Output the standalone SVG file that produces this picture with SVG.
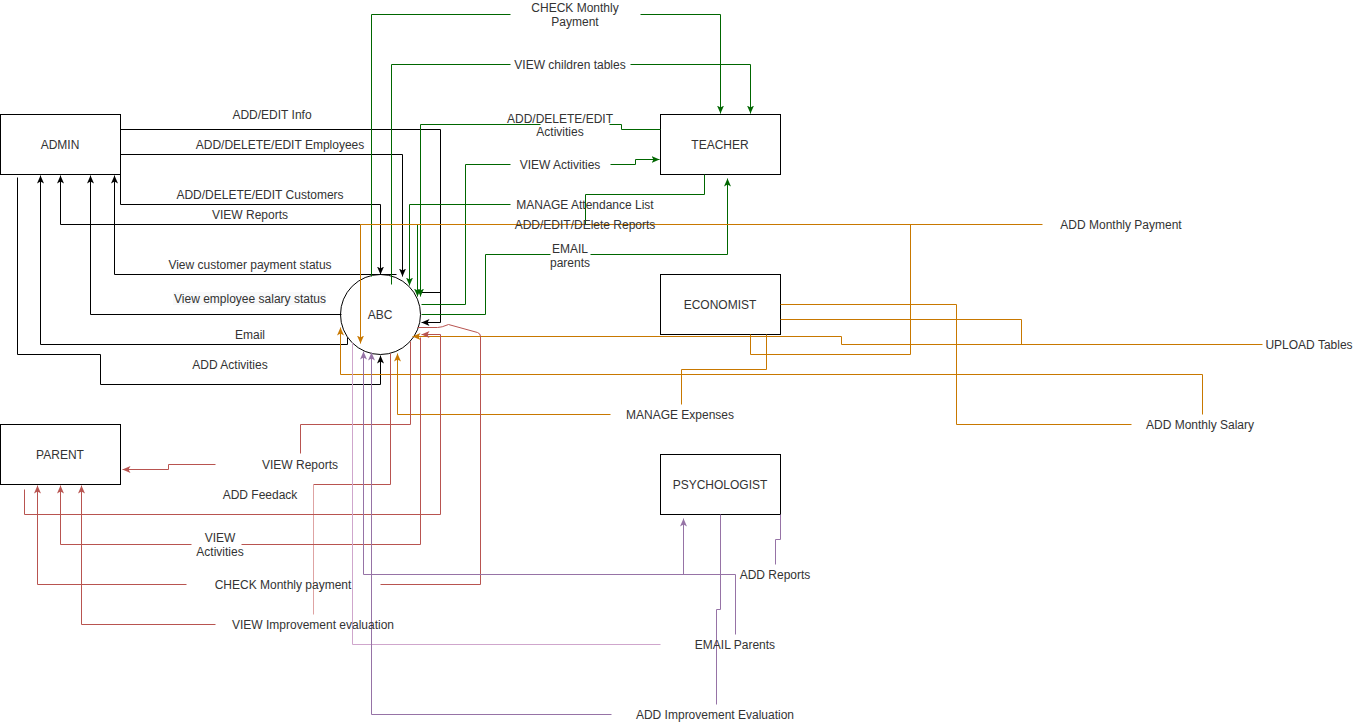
<svg xmlns="http://www.w3.org/2000/svg" width="1361" height="725" viewBox="0 0 1361 725">
<style>
.node{fill:#fff;stroke:#000;stroke-width:1}
.t{font-family:"Liberation Sans",Arial,Helvetica,sans-serif;font-size:12px;fill:#333;text-anchor:middle}
.e{fill:none;stroke-width:1}
.k{stroke:#000}
.g{stroke:#006600}
.o{stroke:#c87800}
.r{stroke:#b85450}
.rl{stroke:#dea3a3}
.p{stroke:#9673a6}
.pl{stroke:#cfa6cc}
</style>
<defs>
<marker id="ak" viewBox="0 0 8 8" refX="8" refY="4" markerWidth="8" markerHeight="8" markerUnits="userSpaceOnUse" orient="auto"><path d="M0,0.5 L8,4 L0,7.5 L2,4 Z" fill="#000"/></marker>
<marker id="ag" viewBox="0 0 8 8" refX="8" refY="4" markerWidth="8" markerHeight="8" markerUnits="userSpaceOnUse" orient="auto"><path d="M0,0.5 L8,4 L0,7.5 L2,4 Z" fill="#006600"/></marker>
<marker id="ao" viewBox="0 0 8 8" refX="8" refY="4" markerWidth="8" markerHeight="8" markerUnits="userSpaceOnUse" orient="auto"><path d="M0,0.5 L8,4 L0,7.5 L2,4 Z" fill="#c87800"/></marker>
<marker id="ar" viewBox="0 0 8 8" refX="8" refY="4" markerWidth="8" markerHeight="8" markerUnits="userSpaceOnUse" orient="auto"><path d="M0,0.5 L8,4 L0,7.5 L2,4 Z" fill="#b85450"/></marker>
<marker id="ap" viewBox="0 0 8 8" refX="8" refY="4" markerWidth="8" markerHeight="8" markerUnits="userSpaceOnUse" orient="auto"><path d="M0,0.5 L8,4 L0,7.5 L2,4 Z" fill="#9673a6"/></marker>
</defs>
<rect width="1361" height="725" fill="#fff"/>

<g id="admin"><rect class="node" x="0.5" y="114.5" width="120" height="60"/><text class="t" x="60" y="149">ADMIN</text></g>
<g id="teacher"><rect class="node" x="660.5" y="114.5" width="120" height="60"/><text class="t" x="720" y="149">TEACHER</text></g>
<g id="economist"><rect class="node" x="660.5" y="274.5" width="120" height="60"/><text class="t" x="720" y="309">ECONOMIST</text></g>
<g id="parent"><rect class="node" x="0.5" y="424.5" width="120" height="60"/><text class="t" x="60" y="459">PARENT</text></g>
<g id="psychologist"><rect class="node" x="660.5" y="454.5" width="120" height="60"/><text class="t" x="720" y="489">PSYCHOLOGIST</text></g>
<g id="abc"><circle class="node" cx="380.5" cy="314.5" r="40"/><text class="t" x="380" y="319">ABC</text></g>

<g id="connectors" transform="translate(0.5,0.5)">
<g class="e k">
<path d="M120,129 H440 V322 H421" marker-end="url(#ak)"/>
<path d="M421,292 H440"/>
<path d="M120,154 H402 V276" marker-end="url(#ak)"/>
<path d="M120,174 V204 H380 V274" marker-end="url(#ak)"/>
<path d="M360,224 H60 V175" marker-end="url(#ak)"/>
<path d="M396,274 H114 V175" marker-end="url(#ak)"/>
<path d="M341,314 H90 V175" marker-end="url(#ak)"/>
<path d="M347,337 V344 H40 V175" marker-end="url(#ak)"/>
<path d="M17,177 V354 H100 V384 H380 V355" marker-end="url(#ak)"/>
</g>
<g class="e g">
<path d="M371,276 V14 H510"/><path d="M640,14 H720 V113" marker-end="url(#ag)"/>
<path d="M391,284 V64 H510"/><path d="M630,64 H750 V113" marker-end="url(#ag)"/>
<path d="M660,129 H621 V124 H609"/><path d="M540,124 H420 V296" marker-end="url(#ag)"/>
<path d="M421,304 H465 V164 H510"/><path d="M610,164 H635 V159 H659" marker-end="url(#ag)"/>
<path d="M510,204 H409 V285" marker-end="url(#ag)"/>
<path d="M704,174 V194 H585 V224 H417 V296" marker-end="url(#ag)"/>
<path d="M421,314 H485 V254 H550"/><path d="M590,254 H727 V178" marker-end="url(#ag)"/>
</g>
<g class="e o">
<path d="M1042,224 H360 V343" marker-end="url(#ao)"/>
<path d="M750,334 V354 H910 V224"/>
<path d="M1262,344 H841 V336 H412" marker-end="url(#ao)"/>
<path d="M780,319 H1021 V344"/>
<path d="M1202,414 V374 H340 V327" marker-end="url(#ao)"/>
<path d="M780,304 H956 V424 H1131"/>
<path d="M766,334 V369 H681 V404"/>
<path d="M610,414 H397 V353" marker-end="url(#ao)"/>
</g>
<g class="e r">
<path d="M410,341 V424 H300 V453"/>
<path d="M215,464 H168 V469 H122" marker-end="url(#ar)"/>
<path d="M390,353 V484 H313"/>
<path class="rl" d="M313,484 V614"/>
<path d="M24,489 V514 H440 V334 H421" marker-end="url(#ar)"/>
<path d="M420,337 V544 H241"/><path d="M191,544 H60 V485" marker-end="url(#ar)"/>
<path d="M417,327 L437,327 Q441,327 448,324 L477,332 Q480,333 480,336 V584 H380"/>
<path d="M186,584 H37 V485" marker-end="url(#ar)"/>
<path d="M215,624 H81 V485" marker-end="url(#ar)"/>
</g>
<g class="e p">
<path d="M780,514 V539 H775 V564"/>
<path d="M735,634 V574 H363 V351" marker-end="url(#ap)"/>
<path d="M683,574 V518" marker-end="url(#ap)"/>
<path class="pl" d="M660,644 H352 V342"/>
<path d="M720,514 V609 H716 V704"/>
<path d="M611,714 H371 V352" marker-end="url(#ap)"/>
</g>
</g>

<g id="labels">
<text class="t" x="272" y="119">ADD/EDIT Info</text>
<text class="t" x="280" y="149">ADD/DELETE/EDIT Employees</text>
<text class="t" x="260" y="199">ADD/DELETE/EDIT Customers</text>
<text class="t" x="250" y="219">VIEW Reports</text>
<text class="t" x="250" y="269">View customer payment status</text>
<rect x="173" y="292" width="153" height="13" fill="#f8f9fa"/>
<text class="t" x="250" y="303">View employee salary status</text>
<text class="t" x="250" y="339">Email</text>
<text class="t" x="230" y="369">ADD Activities</text>
<text class="t" x="575" y="12">CHECK Monthly</text>
<text class="t" x="575" y="26">Payment</text>
<text class="t" x="570" y="69">VIEW children tables</text>
<text class="t" x="560" y="123">ADD/DELETE/EDIT</text>
<text class="t" x="560" y="136">Activities</text>
<text class="t" x="560" y="169">VIEW Activities</text>
<text class="t" x="585" y="209">MANAGE Attendance List</text>
<text class="t" x="585" y="229">ADD/EDIT/DElete Reports</text>
<text class="t" x="570" y="253">EMAIL</text>
<text class="t" x="570" y="267">parents</text>
<text class="t" x="1121" y="229">ADD Monthly Payment</text>
<text class="t" x="1309" y="349">UPLOAD Tables</text>
<text class="t" x="680" y="419">MANAGE Expenses</text>
<text class="t" x="1200" y="429">ADD Monthly Salary</text>
<text class="t" x="300" y="469">VIEW Reports</text>
<text class="t" x="260" y="499">ADD Feedack</text>
<text class="t" x="220" y="542">VIEW</text>
<text class="t" x="220" y="556">Activities</text>
<text class="t" x="283" y="589">CHECK Monthly payment</text>
<text class="t" x="313" y="629">VIEW Improvement evaluation</text>
<text class="t" x="775" y="579">ADD Reports</text>
<text class="t" x="735" y="649">EMAIL Parents</text>
<text class="t" x="715" y="719">ADD Improvement Evaluation</text>
</g>
</svg>
